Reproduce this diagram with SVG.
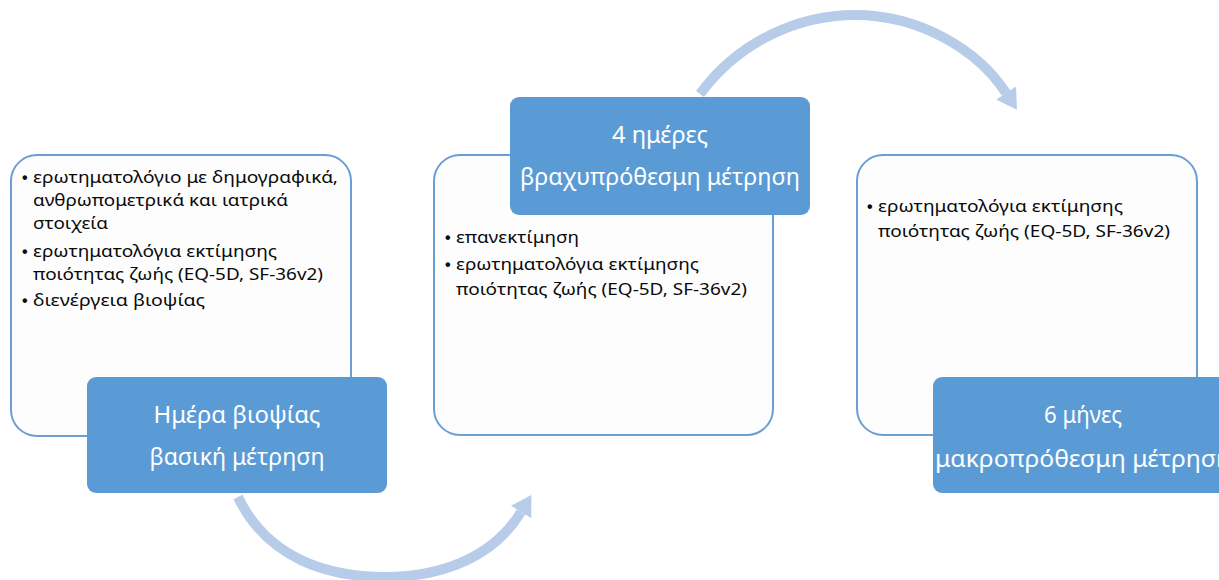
<svg xmlns="http://www.w3.org/2000/svg" width="1219" height="580" viewBox="0 0 1219 580">
<style>
.box{fill:#fdfdfd;stroke:#6a9fd6;stroke-width:2}
.lab{fill:#5b9bd5}
.t{font-family:"Noto Sans","Liberation Sans",sans-serif;font-size:16px;fill:#0a0a0a}
.b{font-family:"Liberation Sans",sans-serif;font-size:16px;font-weight:bold;fill:#0a0a0a}
.w{font-family:"Noto Sans","Liberation Sans",sans-serif;font-size:23px;fill:#ffffff;text-anchor:middle}
.arr{fill:none;stroke:#b6cce8;stroke-width:10}
</style>
<defs>
<marker id="ah" markerUnits="userSpaceOnUse" markerWidth="20" markerHeight="24" refX="0" refY="12" orient="auto" viewBox="0 0 20 24">
<path d="M0,0 L20,12 L0,24 z" fill="#b6cce8"/>
</marker>
</defs>
<rect width="1219" height="580" fill="#ffffff"/>
<g id="connectors">
<path class="arr" d="M 238 497 C 268 560, 330 577, 385 577 C 445 577, 495 555, 521 512" marker-end="url(#ah)"/>
<path class="arr" d="M 700 94 C 740 40, 800 15, 855 15 C 920 15, 978 50, 1006 93" marker-end="url(#ah)"/>
</g>
<g id="box1">
<rect class="box" x="11" y="155" width="340" height="281" rx="26"/>
<text class="b" x="22" y="183">•</text>
<text class="t" x="33" y="183" textLength="305" lengthAdjust="spacingAndGlyphs">ερωτηματολόγιο με δημογραφικά,</text>
<text class="t" x="33" y="206" textLength="255" lengthAdjust="spacingAndGlyphs">ανθρωπομετρικά και ιατρικά</text>
<text class="t" x="33" y="229" textLength="75" lengthAdjust="spacingAndGlyphs">στοιχεία</text>
<text class="b" x="22" y="257">•</text>
<text class="t" x="33" y="257" textLength="244" lengthAdjust="spacingAndGlyphs">ερωτηματολόγια εκτίμησης</text>
<text class="t" x="33" y="280" textLength="290" lengthAdjust="spacingAndGlyphs">ποιότητας ζωής (EQ-5D, SF-36v2)</text>
<text class="b" x="22" y="306">•</text>
<text class="t" x="33" y="306" textLength="172" lengthAdjust="spacingAndGlyphs">διενέργεια βιοψίας</text>
</g>
<g id="label1">
<rect class="lab" x="87" y="377" width="300" height="116" rx="9"/>
<text class="w" x="237" y="423" textLength="167" lengthAdjust="spacingAndGlyphs">Ημέρα βιοψίας</text>
<text class="w" x="237" y="465" textLength="175" lengthAdjust="spacingAndGlyphs">βασική μέτρηση</text>
</g>
<g id="box2">
<rect class="box" x="434" y="155" width="339" height="280" rx="26"/>
<text class="b" x="445" y="243">•</text>
<text class="t" x="456" y="243" textLength="123" lengthAdjust="spacingAndGlyphs">επανεκτίμηση</text>
<text class="b" x="445" y="270">•</text>
<text class="t" x="456" y="270" textLength="243" lengthAdjust="spacingAndGlyphs">ερωτηματολόγια εκτίμησης</text>
<text class="t" x="456" y="295" textLength="291" lengthAdjust="spacingAndGlyphs">ποιότητας ζωής (EQ-5D, SF-36v2)</text>
</g>
<g id="label2">
<rect class="lab" x="510" y="97" width="300" height="118" rx="9"/>
<text class="w" x="660" y="143" textLength="96" lengthAdjust="spacingAndGlyphs">4 ημέρες</text>
<text class="w" x="660" y="185" textLength="280" lengthAdjust="spacingAndGlyphs">βραχυπρόθεσμη μέτρηση</text>
</g>
<g id="box3">
<rect class="box" x="857" y="155" width="340" height="280" rx="26"/>
<text class="b" x="867" y="212">•</text>
<text class="t" x="878" y="212" textLength="245" lengthAdjust="spacingAndGlyphs">ερωτηματολόγια εκτίμησης</text>
<text class="t" x="878" y="237" textLength="292" lengthAdjust="spacingAndGlyphs">ποιότητας ζωής (EQ-5D, SF-36v2)</text>
</g>
<g id="label3">
<rect class="lab" x="933" y="377" width="300" height="116" rx="9"/>
<text class="w" x="1083" y="423" textLength="78" lengthAdjust="spacingAndGlyphs">6 μήνες</text>
<text class="w" x="1083" y="467" textLength="296" lengthAdjust="spacingAndGlyphs">μακροπρόθεσμη μέτρηση</text>
</g>
</svg>
